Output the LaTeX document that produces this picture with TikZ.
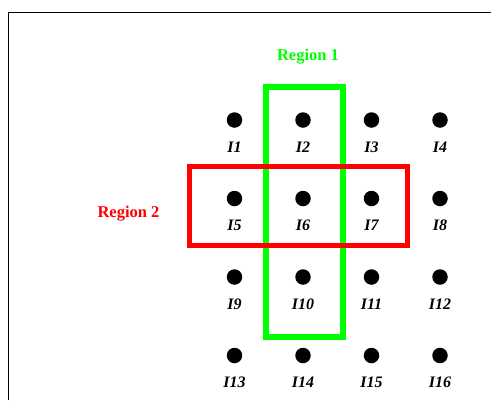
\documentclass[tikz,border=0pt]{standalone}
\usepackage{fontspec}
\setmainfont{Liberation Serif}
\definecolor{regiongreen}{RGB}{0,255,0}
\definecolor{regionred}{RGB}{255,0,0}
\begin{document}
\begin{tikzpicture}[x=1pt,y=-1pt,
  pixel/.style={circle,fill=black,inner sep=0pt,minimum size=15.5pt},
  pixlabel/.style={font=\fontsize{16}{16}\selectfont\bfseries\itshape,inner sep=0pt,anchor=base},
  regionlabel/.style={font=\fontsize{16.5}{16.5}\selectfont\bfseries,inner sep=0pt,anchor=base},
  frameline/.style={draw=black,line width=1pt}]
\useasboundingbox (0,0) rectangle (491,400);
% outer frame (top and left edges)
\coordinate (fbl) at (8,400);
\coordinate (ftl) at (8,12);
\coordinate (ftr) at (491,12);
\draw[frameline] (fbl) -- (ftl) -- (ftr);
% 4x4 grid of pixels with their labels
\foreach \r in {0,...,3}{
  \foreach \c in {0,...,3}{
    \pgfmathtruncatemacro\n{4*\r+\c+1}
    \pgfmathsetmacro\px{234.5+68.5*\c}
    \pgfmathsetmacro\py{120+78.5*\r}
    \node[pixel] (p\n) at (\px,\py) {};
    \node[pixlabel] (l\n) at (\px,\py+32) {I\n};
  }
}
% region 1: vertical neighbourhood
\coordinate (g1) at (265.5,87);
\coordinate (g2) at (343,337);
\draw[regiongreen,line width=6pt] (g1) rectangle (g2);
% region 2: horizontal neighbourhood
\coordinate (r1) at (189.5,166);
\coordinate (r2) at (407,245);
\draw[regionred,line width=5pt] (r1) rectangle (r2);
\node[regionlabel,text=regiongreen] (reg1) at (308,60) {Region 1};
\node[regionlabel,text=regionred] (reg2) at (128.5,217.5) {Region 2};
\end{tikzpicture}
\end{document}
